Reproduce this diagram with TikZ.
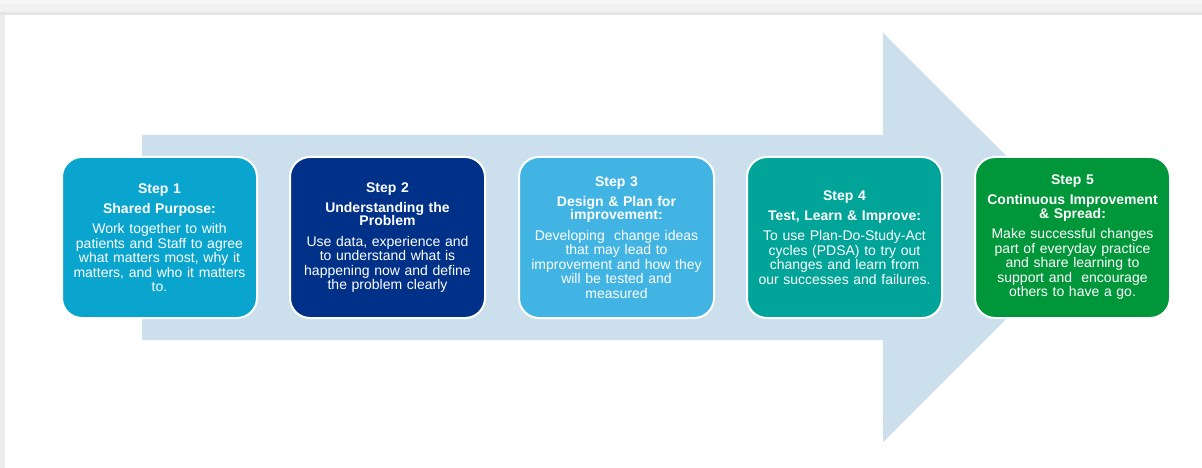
\documentclass[tikz,border=0pt]{standalone}
\usepackage{fontspec}
\setmainfont{Liberation Sans}
\definecolor{arrowblue}{HTML}{CBDFEC}
\definecolor{stepA}{HTML}{0AA5CE}
\definecolor{stepB}{HTML}{003189}
\definecolor{stepC}{HTML}{41B4E4}
\definecolor{stepD}{HTML}{00A499}
\definecolor{stepE}{HTML}{00963A}
\definecolor{bandA}{HTML}{F7F7F7}
\definecolor{bandB}{HTML}{F1F1F1}
\definecolor{bandC}{HTML}{E4E4E4}
\definecolor{sideline}{HTML}{ECECEC}
\tikzset{
  stepbox/.style={draw=white, line width=2pt, rounded corners=20pt,
    minimum width=195pt, minimum height=161pt, inner sep=0pt,
    text=white, align=center, text width=190pt,
    font=\fontsize{14}{14.5}\selectfont},
}
\newcommand{\steptitle}[1]{\textbf{#1}}
\begin{document}
\begin{tikzpicture}[x=1pt,y=-1pt]
  \useasboundingbox (0,0) rectangle (1202,468);
  % page frame
  \fill[white] (0,0) rectangle (1202,468);
  \fill[bandA] (0,0) rectangle (1202,4);
  \fill[bandB] (0,4) rectangle (1202,12);
  \fill[bandC] (0,12) rectangle (1202,15);
  \fill[sideline] (0,15) rectangle (5,468);
  % large process arrow behind the steps
  \fill[arrowblue] (142,135) -- (883,135) -- (883,33) -- (1088,237.5)
     -- (883,442) -- (883,340) -- (142,340) -- cycle;
  % steps
  \node[stepbox, fill=stepA] (s1) at (159.5,237.5)
    {\steptitle{Step 1}\\[5.5pt]\steptitle{Shared Purpose:}\\[6pt]
     Work together to with\\patients and Staff to agree\\what matters most, why it\\matters, and who it matters\\to.};
  \node[stepbox, fill=stepB] (s2) at (387.5,237.5)
    {\steptitle{Step 2}\\[5.5pt]\steptitle{Understanding the}\\[-1pt]\steptitle{Problem}\\[6pt]
     Use data, experience and\\to understand what is\\happening now and define\\the problem clearly};
  \node[stepbox, fill=stepC] (s3) at (616.5,237.5)
    {\steptitle{Step 3}\\[5.5pt]\steptitle{Design \& Plan for}\\[-1pt]\steptitle{improvement:}\\[6pt]
     Developing\ \ change ideas\\that may lead to\\improvement and how they\\will be tested and\\measured};
  \node[stepbox, fill=stepD] (s4) at (844.5,237.5)
    {\steptitle{Step 4}\\[5.5pt]\steptitle{Test, Learn \& Improve:}\\[6pt]
     To use Plan-Do-Study-Act\\cycles (PDSA) to try out\\changes and learn from\\our successes and failures.};
  \node[stepbox, fill=stepE] (s5) at (1072.5,237.5)
    {\steptitle{Step 5}\\[5.5pt]\steptitle{Continuous Improvement}\\[-1pt]\steptitle{\& Spread:}\\[6pt]
     Make successful changes\\part of everyday practice\\and share learning to\\support and\ \ encourage\\others to have a go.};
\end{tikzpicture}
\end{document}
